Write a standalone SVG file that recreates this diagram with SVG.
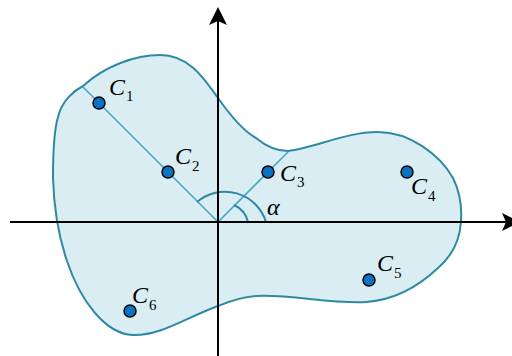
<svg xmlns="http://www.w3.org/2000/svg" width="512" height="356" viewBox="0 0 512 356">
<style>
.blob{fill:#daedf3;stroke:#2e8aa3;stroke-width:2}
.ray{stroke:#45a9c6;stroke-width:1.6;fill:none}
.arc{stroke:#2e8aa3;stroke-width:2;fill:none}
.axis{stroke:#000;stroke-width:2;fill:none}
.head{fill:#000}
.dot{fill:#0a72c2;stroke:#000;stroke-width:1.5}
.c{font-family:"Liberation Serif",serif;font-style:italic;font-size:24px;fill:#000}
.s{font-family:"Liberation Serif",serif;font-size:15px;fill:#000}
</style>
<g id="region">
<path class="blob" d="M58,117 C62,100 75,90 83,86 C105,66 135,55 160,55 C190,55 205,80 218,98 C230,115 245,132 256,138 C268,148 278,151 288,151 C315,148 345,132 378,132 C410,132 440,155 453,178 C460,192 462,205 461,221 C460,240 452,256 438,268 C420,285 395,300 366,302 C330,304 290,294 256,296 C240,297 228,302 218,306 C185,318 160,336 133,335 C105,334 80,300 67,261 C58,235 54,210 53,178 C53,155 54,130 58,117 Z"/>
</g>
<g id="connectors">
<line class="ray" x1="218" y1="222" x2="83" y2="87"/>
<line class="ray" x1="218" y1="222" x2="288" y2="152"/>
<path class="arc" d="M197,202 A43,43 0 0 1 266,222"/>
<path class="arc" d="M234,205 A25,25 0 0 1 248,222"/>
<line class="axis" x1="10" y1="222" x2="506" y2="222"/>
<path class="head" d="M520,222 L502,213 L506,222 L502,231 Z"/>
<line class="axis" x1="218" y1="356" x2="218" y2="20"/>
<path class="head" d="M218,7 L209,25 L218,21 L227,25 Z"/>
</g>
<g id="C1"><circle class="dot" cx="99" cy="103" r="6"/><text class="c" x="109" y="95">C</text><text class="s" x="126" y="101">1</text></g>
<g id="C2"><circle class="dot" cx="168" cy="172" r="6"/><text class="c" x="175" y="164">C</text><text class="s" x="192" y="171">2</text></g>
<g id="C3"><circle class="dot" cx="268" cy="172" r="6"/><text class="c" x="280" y="181">C</text><text class="s" x="297" y="187">3</text></g>
<g id="C4"><circle class="dot" cx="407" cy="172" r="6"/><text class="c" x="411" y="194">C</text><text class="s" x="428" y="201">4</text></g>
<g id="C5"><circle class="dot" cx="369" cy="280" r="6"/><text class="c" x="377" y="271">C</text><text class="s" x="394" y="278">5</text></g>
<g id="C6"><circle class="dot" cx="130" cy="311" r="6"/><text class="c" x="132" y="303">C</text><text class="s" x="149" y="310">6</text></g>
<g id="alpha"><text class="c" x="267" y="215">α</text></g>
</svg>
